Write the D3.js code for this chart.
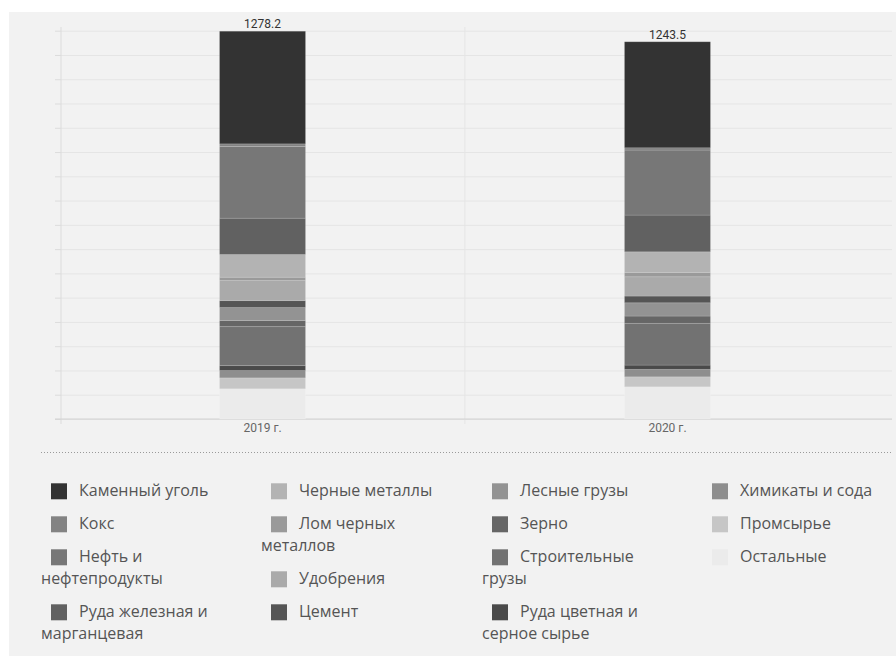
<!DOCTYPE html>
<html>
<head>
<meta charset="utf-8">
<script src="https://cdn.jsdelivr.net/npm/d3@7"></script>
<style>
  body { margin: 0; background: #fff; }
  svg { display: block; font-family: Roboto, "Noto Sans", sans-serif; }
</style>
</head>
<body>
<div class="canvas"></div>
<script>
const years = ["2019 г.", "2020 г."];

const cargo = [
  "Каменный уголь", "Кокс", "Нефть и нефтепродукты", "Руда железная и марганцевая",
  "Черные металлы", "Лом черных металлов", "Удобрения", "Цемент",
  "Лесные грузы", "Зерно", "Строительные грузы", "Руда цветная и серное сырье",
  "Химикаты и сода", "Промсырье", "Остальные"
];

const values2019 = [371.2, 8.8, 236.3, 119.7, 74.8, 11.0, 66.0, 23.0, 42.9, 19.8, 128.6, 16.5, 24.0, 36.0, 99.6];
const values2020 = [349.4, 7.6, 214.3, 121.0, 67.9, 14.5, 63.6, 22.1, 43.8, 24.1, 137.5, 14.2, 24.4, 33.0, 106.1];

const colors = [
  "#333333", "#838383", "#777777", "#616161",
  "#b3b3b3", "#9a9a9a", "#aaaaaa", "#555555",
  "#939393", "#666666", "#727272", "#4a4a4a",
  "#8e8e8e", "#c6c6c6", "#ebebeb"
];

const yTicks = d3.range(0, 1281, 80);

const dims = { width: 896, height: 656 };

const svg = d3
  .select(".canvas")
  .append("svg")
  .attr("width", dims.width)
  .attr("height", dims.height);

// grey panel
svg.append("rect")
  .attr("x", 9).attr("y", 12)
  .attr("width", dims.width - 9).attr("height", dims.height - 12)
  .attr("fill", "#f2f2f2");

const rows = years.map((yr, i) => {
  const row = { year: yr };
  cargo.forEach((c, j) => (row[c] = [values2019, values2020][i][j]));
  return row;
});

const x = d3.scaleBand()
  .domain(years)
  .range([60, 870])
  .paddingInner(0.7877)
  .paddingOuter(0.394);

const y = d3.scaleLinear().domain([0, 1280]).range([419, 30.7]);

// horizontal grid
svg.append("g")
  .attr("transform", "translate(61,0)")
  .call(d3.axisRight(y).tickValues(yTicks).tickSize(831).tickFormat(""))
  .call((g) => g.select(".domain").remove())
  .call((g) => g.selectAll("line").attr("stroke", "#e5e5e5"));

// y axis ticks
svg.append("g")
  .attr("transform", "translate(61,0)")
  .call(d3.axisLeft(y).tickValues(yTicks).tickSize(6).tickFormat("").tickSizeOuter(0))
  .call((g) => g.select(".domain").attr("stroke", "#dcdcdc").attr("d", "M0,27V424"))
  .call((g) => g.selectAll("line").attr("stroke", "#dcdcdc"));

// vertical separator between categories
svg.append("line")
  .attr("x1", x.step() + 60).attr("x2", x.step() + 60)
  .attr("y1", 27).attr("y2", 424)
  .attr("stroke", "#e5e5e5");

// baseline
svg.append("line")
  .attr("x1", 55).attr("x2", 892)
  .attr("y1", y(0)).attr("y2", y(0))
  .attr("stroke", "#d2d2d2");

// x labels
svg.append("g")
  .attr("transform", `translate(0,${y(0)})`)
  .call(d3.axisBottom(x).tickSize(0).tickPadding(4))
  .call((g) => g.select(".domain").remove())
  .call((g) => g.selectAll("text")
    .attr("font-size", 12)
    .attr("font-family", "Roboto, sans-serif")
    .attr("fill", "#666"));

// stacked bars, first legend item on top
const stack = d3.stack().keys(cargo.slice().reverse())(rows);
const color = d3.scaleOrdinal().domain(cargo).range(colors);

svg.append("g")
  .selectAll("g")
  .data(stack)
  .join("g")
  .attr("fill", (d) => color(d.key))
  .selectAll("rect")
  .data((d) => d)
  .join("rect")
  .attr("x", (d) => x(d.data.year))
  .attr("width", x.bandwidth())
  .attr("y", (d) => y(d[1]))
  .attr("height", (d) => y(d[0]) - y(d[1]))
  .attr("stroke", "rgba(255,255,255,0.12)")
  .attr("stroke-width", 1);

// totals
svg.append("g")
  .selectAll("text")
  .data(rows)
  .join("text")
  .attr("x", (d) => x(d.year) + x.bandwidth() / 2)
  .attr("y", (d) => y(d3.sum(cargo, (c) => d[c])) - 3)
  .attr("text-anchor", "middle")
  .attr("font-size", 12)
  .attr("fill", "#333")
  .text((d) => d3.sum(cargo, (c) => d[c]).toFixed(1));

// dotted separator
svg.append("line")
  .attr("x1", 41).attr("x2", 892)
  .attr("y1", 452.5).attr("y2", 452.5)
  .attr("stroke", "#9a9a9a")
  .attr("stroke-dasharray", "1,2");

// legend: four columns, items flow down each column and wrap
const colX = [41, 261, 482, 702];
const perCol = 4;
const maxW = 195;
const lineH = 22;
const itemGap = 33;

colX.forEach((cx, ci) => {
  let base = 495.7;
  cargo.slice(ci * perCol, ci * perCol + perCol).forEach((name, k) => {
    const idx = ci * perCol + k;
    const item = svg.append("g");
    item.append("rect")
      .attr("x", cx + 10).attr("y", base - 12.4)
      .attr("width", 16).attr("height", 16)
      .attr("fill", colors[idx]);

    const text = item.append("text")
      .attr("font-family", "'Open Sans', Roboto, sans-serif")
      .attr("font-size", 16)
      .attr("fill", "#555");

    const words = name.split(" ");
    let lines = [];
    let cur = [];
    let startX = cx + 38;
    let avail = maxW - 38;
    const probe = text.append("tspan");
    words.forEach((w) => {
      const test = cur.concat([w]).join(" ");
      probe.text(test);
      if (cur.length && probe.node().getComputedTextLength() > avail) {
        lines.push(cur.join(" "));
        cur = [w];
        avail = maxW;
      } else {
        cur.push(w);
      }
    });
    lines.push(cur.join(" "));
    probe.remove();

    lines.forEach((ln, li) => {
      text.append("tspan")
        .attr("x", li === 0 ? startX : cx)
        .attr("y", base + li * lineH)
        .text(ln);
    });
    base += itemGap + (lines.length - 1) * lineH;
  });
});
</script>
</body>
</html>
